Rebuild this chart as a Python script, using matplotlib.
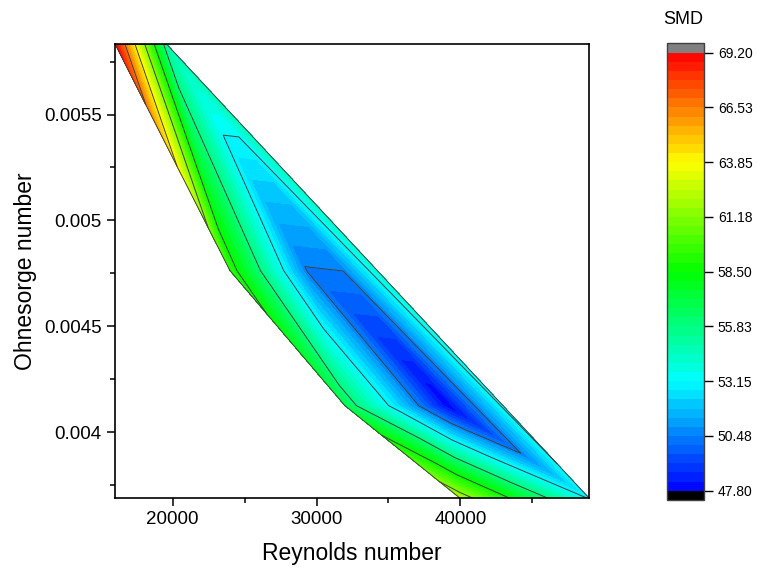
import numpy as np
import matplotlib
matplotlib.use("Agg")
import matplotlib.pyplot as plt
import matplotlib.tri as mtri
from matplotlib.colors import LinearSegmentedColormap, BoundaryNorm
from matplotlib.ticker import MultipleLocator, FuncFormatter

plt.rcParams['font.family'] = ['Liberation Sans', 'DejaVu Sans']

# measured points (Reynolds, Ohnesorge, SMD)
reynolds = [15990, 17780, 19570,
            23980, 26670, 29360,
            31970, 35560, 39150,
            39960, 44450, 48940]
ohnesorge = [0.005833, 0.005833, 0.005833,
             0.004763, 0.004763, 0.004763,
             0.004125, 0.004125, 0.004125,
             0.003689, 0.003689, 0.003689]
smd = [69.2, 62.3, 55.0,
       59.3, 54.9, 50.4,
       56.8, 52.5, 47.8,
       62.1, 57.4, 53.0]

smd_min, smd_max = 47.80, 69.20
cbar_ticks = [47.80, 50.48, 53.15, 55.83, 58.50, 61.18, 63.85, 66.53, 69.20]

re = np.array(reynolds)
oh = np.array(ohnesorge)
z = np.array(smd)

# triangulate on scaled coordinates so both axes count the same
xn = (re - re.min()) / (re.max() - re.min())
yn = (oh - oh.min()) / (oh.max() - oh.min())
tris = mtri.Triangulation(xn, yn).triangles
tri = mtri.Triangulation(re, oh, tris)

levels = np.linspace(smd_min, smd_max, 49)
cmap = LinearSegmentedColormap.from_list(
    'rainbow_origin', ['#0000ff', '#00ffff', '#00ff00', '#ffff00', '#ff0000'], N=256)
cols = cmap((np.arange(48) + 0.5) / 48)
cmap_b = LinearSegmentedColormap.from_list('bands', cols, N=48)
cmap_b.set_over('#808080')
cmap_b.set_under('#000000')
norm = BoundaryNorm(levels, 48)

fig = plt.figure(figsize=(7.58, 5.73), dpi=100)
ax = fig.add_axes([0.1517, 0.1309, 0.6253, 0.7923])

cf = ax.tricontourf(tri, z, levels=levels, cmap=cmap_b, norm=norm, extend='both')
ax.tricontour(tri, z, levels=cbar_ticks[1:-1], colors='#404040', linewidths=0.7)

# outline of the data region
edges = []
for t, nb in zip(tri.triangles, tri.neighbors):
    for k in range(3):
        if nb[k] == -1:
            edges.append((t[k], t[(k + 1) % 3]))
for a, b in edges:
    ax.plot([re[a], re[b]], [oh[a], oh[b]], color='#404040', lw=0.7)

ax.set_xlim(re.min(), re.max())
ax.set_ylim(oh.min(), oh.max())

ax.xaxis.set_major_locator(MultipleLocator(10000))
ax.xaxis.set_minor_locator(MultipleLocator(5000))
ax.yaxis.set_major_locator(MultipleLocator(0.0005))
ax.yaxis.set_minor_locator(MultipleLocator(0.00025))
ax.yaxis.set_major_formatter(FuncFormatter(lambda v, p: '%g' % round(v, 6)))
ax.tick_params(which='major', direction='out', length=6, width=1.1, labelsize=13.5)
ax.tick_params(which='minor', direction='out', length=3.6, width=1.1)
for s in ax.spines.values():
    s.set_linewidth(1.2)

ax.set_xlabel('Reynolds number', fontsize=16.5, labelpad=10)
ax.set_ylabel('Ohnesorge number', fontsize=16.5, labelpad=5)

cax = fig.add_axes([667 / 758, 1 - 500 / 573, 37 / 758, 456.7 / 573])
cb = fig.colorbar(cf, cax=cax, ticks=cbar_ticks, extend='both',
                  extendrect=True, extendfrac=0.0214)
cb.ax.minorticks_off()
cb.ax.set_yticklabels(['%.2f' % v for v in cbar_ticks])
cb.ax.tick_params(labelsize=10, length=6.5, width=1, pad=3.5)
cb.outline.set_linewidth(1.0)
cb.outline.set_edgecolor('#404040')
fig.text(683 / 758, 1 - 20 / 573, 'SMD', fontsize=13, ha='center', va='center')

fig.savefig('out.png', dpi=100)
